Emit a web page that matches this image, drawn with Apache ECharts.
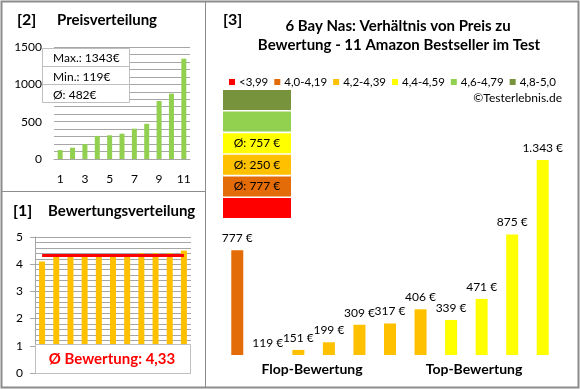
<!DOCTYPE html>
<html><head><meta charset="utf-8">
<script src="https://cdn.jsdelivr.net/npm/echarts/dist/echarts.min.js"></script>
<style>html,body{margin:0;padding:0;background:#fff}#c{width:580px;height:390px}</style>
</head><body><div id="c"></div>
<script>
// ---- data ----
const productNo = ['1','2','3','4','5','6','7','8','9','10','11'];
const prices = [777, 119, 151, 199, 309, 317, 406, 339, 471, 875, 1343];
const ratings = [4.1, 4.3, 4.3, 4.3, 4.3, 4.3, 4.3, 4.4, 4.4, 4.4, 4.5];
const priceTicks = [0, 500, 1000, 1500];
const ratingTicks = [0, 1, 2, 3, 4, 5];
const rangeNames = ['<3,99', '4,0-4,19', '4,2-4,39', '4,4-4,59', '4,6-4,79', '4,8-5,0'];
const rangeColors = ['#FF0000', '#E36C09', '#FFC000', '#FFFF00', '#92D050', '#77933C'];

// ---- derived ----
const FONT = 'Lato';
const GRID = '#a6a6a6';
const BORDER = '#8c8c8c';
const n = prices.length;
const sortedPrices = prices.slice().sort((a, b) => a - b);
const maxP = Math.max(...prices), minP = Math.min(...prices);
const avgP = Math.round(prices.reduce((a, b) => a + b, 0) / n);
const avgR = ratings.reduce((a, b) => a + b, 0) / n;
function rangeOf(r) {
  if (r < 4) return 0;
  return Math.min(5, Math.floor((r - 4) / 0.2 + 1e-9) + 1);
}
const groups = rangeNames.map((_, k) => prices.filter((p, i) => rangeOf(ratings[i]) === k));
const fmtEur = v => String(v).replace(/\B(?=(\d{3})+(?!\d))/g, '.') + ' €';

const mainSeries = rangeNames.map((name, k) => ({
  name: name,
  type: 'bar',
  xAxisIndex: 2, yAxisIndex: 2,
  data: prices.map((p, i) => rangeOf(ratings[i]) === k ? p : '-'),
  barWidth: 12,
  barGap: '-100%',
  itemStyle: { color: rangeColors[k] },
  label: { show: true, position: 'top', distance: 6, color: '#000', fontFamily: FONT, fontSize: 12,
           formatter: p => fmtEur(p.value) },
  silent: true, animation: false
}));

// group table (top to bottom: best to worst)
const tableTop = 90, rowH = 20, rowStep = 21.6;
const tableEls = [];
for (let j = 0; j < 6; j++) {
  const k = 5 - j;
  const g = groups[k];
  tableEls.push({
    type: 'rect', z: 50,
    shape: { x: 223, y: tableTop + j * rowStep, width: 68, height: rowH },
    style: { fill: rangeColors[k] }
  });
  if (g.length) {
    const a = Math.round(g.reduce((s, v) => s + v, 0) / g.length);
    tableEls.push({
      type: 'text', z: 51, x: 257, y: tableTop + j * rowStep + rowH / 2,
      style: { text: 'Ø: ' + a + ' €', fill: '#000', font: '12px ' + FONT, align: 'center', verticalAlign: 'middle' }
    });
  }
}

const option = {
  animation: false,
  backgroundColor: '#fff',
  textStyle: { fontFamily: FONT },
  legend: {
    data: rangeNames, selectedMode: false, orient: 'horizontal',
    left: 224, top: 71, width: 350, icon: 'rect', itemWidth: 6, itemHeight: 6, itemGap: 6,
    textStyle: { fontFamily: FONT, fontSize: 11.5, color: '#000', padding: [0, 0, 0, -1] }
  },
  grid: [
    { left: 54, top: 47, width: 136, height: 112, outerBoundsMode: 'none', containLabel: false },
    { left: 35, top: 237, width: 156, height: 136, outerBoundsMode: 'none', containLabel: false },
    { left: 222, top: 135, width: 336, height: 220, outerBoundsMode: 'none', containLabel: false }
  ],
  xAxis: [
    { type: 'category', gridIndex: 0, data: productNo,
      axisLine: { show: true, lineStyle: { color: GRID } }, axisTick: { show: false },
      axisLabel: { interval: 1, color: '#000', fontSize: 12, fontFamily: FONT, margin: 14 } },
    { type: 'category', gridIndex: 1, data: productNo,
      axisLine: { show: false }, axisTick: { show: false }, axisLabel: { show: false } },
    { type: 'category', gridIndex: 2, data: productNo,
      axisLine: { show: false }, axisTick: { show: false }, axisLabel: { show: false } }
  ],
  yAxis: [
    { type: 'value', gridIndex: 0, min: priceTicks[0], max: priceTicks[priceTicks.length - 1], interval: 500,
      axisLine: { show: false }, axisTick: { show: false },
      axisLabel: { color: '#000', fontSize: 12, fontFamily: FONT, margin: 12, formatter: v => String(v) },
      splitLine: { show: true, lineStyle: { color: GRID, width: 1 } },
      minorTick: { show: false, splitNumber: 5 },
      minorSplitLine: { show: true, lineStyle: { color: GRID, width: 1 } } },
    { type: 'value', gridIndex: 1, min: ratingTicks[0], max: ratingTicks[ratingTicks.length - 1], interval: 1,
      axisLine: { show: true, lineStyle: { color: GRID } },
      axisTick: { show: true, length: 5, lineStyle: { color: GRID } },
      axisLabel: { color: '#000', fontSize: 12, fontFamily: FONT, margin: 12, formatter: v => String(v) },
      splitLine: { show: true, lineStyle: { color: GRID, width: 1 } },
      minorTick: { show: false, splitNumber: 5 },
      minorSplitLine: { show: true, lineStyle: { color: GRID, width: 1 } } },
    { type: 'value', gridIndex: 2, min: minP, max: 1500, show: false,
      splitLine: { show: false } }
  ],
  series: [
    { type: 'bar', xAxisIndex: 0, yAxisIndex: 0, data: sortedPrices, barWidth: 5,
      itemStyle: { color: '#92D050' }, silent: true },
    { type: 'bar', xAxisIndex: 1, yAxisIndex: 1, data: ratings, barWidth: 6,
      itemStyle: { color: '#FFC000' }, silent: true,
      markLine: { silent: true, symbol: 'none', label: { show: false },
        lineStyle: { color: '#FF0000', width: 3, type: 'solid' },
        data: [[{ xAxis: productNo[0], yAxis: avgR }, { xAxis: productNo[n - 1], yAxis: avgR }]] } },
    ...mainSeries
  ],
  graphic: [
    // borders
    { type: 'rect', z: 200, shape: { x: 1.5, y: 1.5, width: 577, height: 386 },
      style: { fill: null, stroke: BORDER, lineWidth: 2 } },
    { type: 'line', z: 200, shape: { x1: 205.5, y1: 1, x2: 205.5, y2: 388 },
      style: { stroke: BORDER, lineWidth: 1 } },
    { type: 'line', z: 200, shape: { x1: 1, y1: 191.5, x2: 205.5, y2: 191.5 },
      style: { stroke: BORDER, lineWidth: 1 } },
    // titles
    { type: 'text', z: 100, x: 17, y: 20, style: { text: '[2]', font: 'bold 16px ' + FONT, fill: '#000', verticalAlign: 'middle' } },
    { type: 'text', z: 100, x: 57, y: 20, style: { text: 'Preisverteilung', font: 'bold 15px ' + FONT, fill: '#000', verticalAlign: 'middle' } },
    { type: 'text', z: 100, x: 13, y: 211, style: { text: '[1]', font: 'bold 16px ' + FONT, fill: '#000', verticalAlign: 'middle' } },
    { type: 'text', z: 100, x: 48, y: 211, style: { text: 'Bewertungsverteilung', font: 'bold 15px ' + FONT, fill: '#000', verticalAlign: 'middle' } },
    { type: 'text', z: 100, x: 223, y: 20, style: { text: '[3]', font: 'bold 16px ' + FONT, fill: '#000', verticalAlign: 'middle' } },
    { type: 'text', z: 100, x: 398, y: 26, style: { text: '6 Bay Nas: Verhältnis von Preis zu', font: 'bold 15px ' + FONT, fill: '#000', align: 'center', verticalAlign: 'middle' } },
    { type: 'text', z: 100, x: 399, y: 45, style: { text: 'Bewertung - 11 Amazon Bestseller im Test', font: 'bold 15px ' + FONT, fill: '#000', align: 'center', verticalAlign: 'middle' } },
    { type: 'text', z: 100, x: 562, y: 98, style: { text: '©Testerlebnis.de', font: '12px ' + FONT, fill: '#000', align: 'right', verticalAlign: 'middle' } },
    { type: 'text', z: 100, x: 312, y: 369, style: { text: 'Flop-Bewertung', font: 'bold 14px ' + FONT, fill: '#000', align: 'center', verticalAlign: 'middle' } },
    { type: 'text', z: 100, x: 474, y: 369, style: { text: 'Top-Bewertung', font: 'bold 14px ' + FONT, fill: '#000', align: 'center', verticalAlign: 'middle' } },
    // price info box
    { type: 'rect', z: 100, shape: { x: 42.5, y: 48.5, width: 87, height: 54 }, style: { fill: '#fff', stroke: '#bfbfbf', lineWidth: 1 } },
    { type: 'line', z: 101, shape: { x1: 42.5, y1: 66.5, x2: 129.5, y2: 66.5 }, style: { stroke: '#bfbfbf', lineWidth: 1 } },
    { type: 'line', z: 101, shape: { x1: 42.5, y1: 84.5, x2: 129.5, y2: 84.5 }, style: { stroke: '#bfbfbf', lineWidth: 1 } },
    { type: 'text', z: 102, x: 53, y: 58, style: { text: 'Max.: ' + maxP + '€', font: '12px ' + FONT, fill: '#000', verticalAlign: 'middle' } },
    { type: 'text', z: 102, x: 53, y: 77, style: { text: 'Min.: ' + minP + '€', font: '12px ' + FONT, fill: '#000', verticalAlign: 'middle' } },
    { type: 'text', z: 102, x: 53, y: 95, style: { text: 'Ø: ' + avgP + '€', font: '12px ' + FONT, fill: '#000', verticalAlign: 'middle' } },
    // rating box
    { type: 'rect', z: 100, shape: { x: 35.5, y: 344.5, width: 155, height: 29 }, style: { fill: '#fff', stroke: '#bfbfbf', lineWidth: 1 } },
    { type: 'text', z: 102, x: 112, y: 359, style: { text: 'Ø Bewertung: ' + avgR.toFixed(2).replace('.', ','), font: 'bold 15px ' + FONT, fill: '#FF0000', align: 'center', verticalAlign: 'middle' } },
    ...tableEls
  ]
};
const chart = echarts.init(document.getElementById('c'));
chart.setOption(option);
</script>
</body></html>
